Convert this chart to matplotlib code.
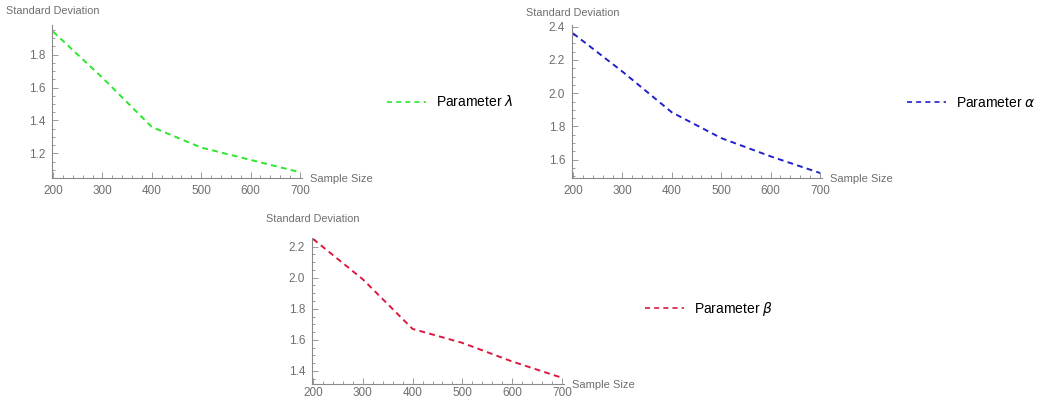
import numpy as np
import matplotlib
matplotlib.use('Agg')
import matplotlib.pyplot as plt
from matplotlib.ticker import MultipleLocator

plt.rcParams['font.family'] = ['Liberation Sans', 'DejaVu Sans']
plt.rcParams['mathtext.fontset'] = 'dejavusans'

# data
sample_size = [200, 300, 400, 500, 600, 700]
sd_lambda = [1.94, 1.66, 1.36, 1.235, 1.16, 1.085]
sd_alpha = [2.36, 2.13, 1.885, 1.73, 1.62, 1.52]
sd_beta = [2.25, 1.99, 1.67, 1.58, 1.46, 1.355]

W, H = 1039, 401
fig = plt.figure(figsize=(W / 100, H / 100), dpi=100)
grey = '#6e6e6e'


def px_axes(left, top, right, bottom):
    return fig.add_axes([left / W, 1 - bottom / H, (right - left) / W, (bottom - top) / H])


def style(ax, ylim, xpad):
    ax.set_xlim(198, 704)
    ax.set_ylim(*ylim)
    for s in ['top', 'right']:
        ax.spines[s].set_visible(False)
    for s in ['left', 'bottom']:
        ax.spines[s].set_color('#8a8a8a')
        ax.spines[s].set_linewidth(0.8)
    ax.xaxis.set_major_locator(MultipleLocator(100))
    ax.xaxis.set_minor_locator(MultipleLocator(20))
    ax.yaxis.set_major_locator(MultipleLocator(0.2))
    ax.yaxis.set_minor_locator(MultipleLocator(0.05))
    ax.tick_params(which='both', direction='in', colors='#8a8a8a', labelcolor=grey,
                   labelsize=8.5, width=0.6, pad=5)
    ax.tick_params(axis='x', pad=xpad)
    ax.tick_params(which='major', length=4)
    ax.tick_params(which='minor', length=2)
    ax.set_facecolor('none')


def legend_entry(x, y, color, label):
    ax = fig.add_axes([0, 0, 1, 1], facecolor='none')
    ax.set_axis_off()
    h, = ax.plot([], [], color=color, lw=1.2, dashes=(3, 2.5))
    ax.legend([h], [label], loc='center left', bbox_to_anchor=(x / W, 1 - y / H),
              bbox_transform=fig.transFigure, frameon=False, fontsize=10,
              handlelength=2.8, handletextpad=0.7, borderpad=0, borderaxespad=0)


panels = [
    ((52, 25, 302, 178), 11, sd_lambda, '#2ee62e', (1.05, 1.98), 5),
    ((572, 25, 822, 178), 13, sd_alpha, '#2020cc', (1.49, 2.41), 5),
    ((312, 238, 564, 384), 219, sd_beta, '#dc1840', (1.315, 2.256), 2),
]
for (l, t, r, b), ylab, vals, col, yl, xpad in panels:
    ax = px_axes(l, t, r, b)
    ax.plot(sample_size, vals, color=col, lw=1.4, dashes=(3, 2.2))
    style(ax, yl, xpad)
    fig.text((l - 46) / W, 1 - ylab / H, 'Standard Deviation', fontsize=7.8, color=grey, va='center')
    fig.text((r + 8) / W, 1 - (b + 1) / H, 'Sample Size', fontsize=8, color=grey, va='center')

legend_entry(387, 102, '#2ee62e', r'Parameter $\lambda$')
legend_entry(907, 103, '#2020cc', r'Parameter $\alpha$')
legend_entry(645, 309, '#dc1840', r'Parameter $\beta$')

fig.savefig('out.png', dpi=100)
